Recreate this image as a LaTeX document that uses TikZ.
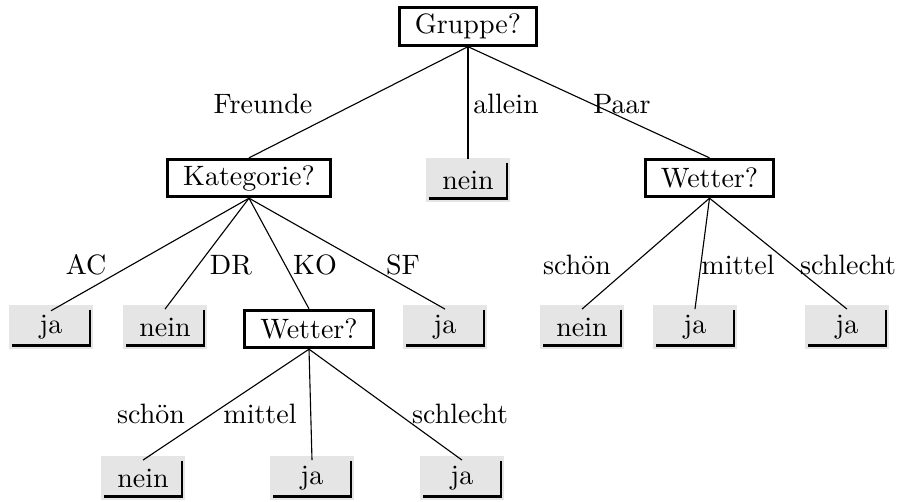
\documentclass[tikz,border=0pt]{standalone}
\begin{document}
\begin{tikzpicture}[x=0.357pt,y=-0.357pt,
  question/.style={draw,line width=1pt,inner xsep=5.6pt,inner ysep=0pt,
    minimum height=13.4pt,font=\normalsize},
  leaf/.style={fill=gray!20,minimum width=30pt,minimum height=16pt,inner sep=0pt,
    path picture={\draw[line width=1pt]
      ([xshift=-1.1pt,yshift=-1.8pt]path picture bounding box.north east) --
      ([xshift=-1.1pt,yshift=1.4pt]path picture bounding box.south east) --
      ([xshift=1.1pt,yshift=1.4pt]path picture bounding box.south west);}},
  branch/.style={anchor=base,inner sep=0pt},
  edge/.style={line width=0.4pt}]
\useasboundingbox (0,0) rectangle (901,501);

% decision nodes
\node[question] (gruppe) at (468,26.5) {Gruppe?};
\node[question] (kat) at (249,178) {Kategorie?};
\node[question] (wetterR) at (709.5,178) {Wetter?};
\node[question] (wetterM) at (309,329) {Wetter?};

% leaves
\node[leaf] (allein) at (468,180) {nein};
\node[leaf] (ac) at (51,327) {ja};
\node[leaf] (dr) at (165,327) {nein};
\node[leaf] (sf) at (445,327) {ja};
\node[leaf] (rschoen) at (582,327) {nein};
\node[leaf] (rmittel) at (695,327) {ja};
\node[leaf] (rschlecht) at (847,327) {ja};
\node[leaf] (mschoen) at (143,478) {nein};
\node[leaf] (mmittel) at (312,478) {ja};
\node[leaf] (mschlecht) at (462,478) {ja};

% connectors
\draw[edge] (gruppe.south) -- (kat.north);
\draw[edge] (gruppe.south) -- ([yshift=-0.7pt]allein.north);
\draw[edge] (gruppe.south) -- (wetterR.north);
\draw[edge] (kat.south) -- ([yshift=-2.4pt]ac.north);
\draw[edge] (kat.south) -- ([yshift=-1.8pt]dr.north);
\draw[edge] (kat.south) -- (wetterM.north);
\draw[edge] (kat.south) -- ([yshift=-1.8pt]sf.north);
\draw[edge] (wetterR.south) -- ([yshift=-1.8pt]rschoen.north);
\draw[edge] (wetterR.south) -- ([yshift=-1.8pt]rmittel.north);
\draw[edge] (wetterR.south) -- ([yshift=-1.8pt]rschlecht.north);
\draw[edge] (wetterM.south) -- ([yshift=-1.8pt]mschoen.north);
\draw[edge] (wetterM.south) -- ([yshift=-1.8pt]mmittel.north);
\draw[edge] (wetterM.south) -- ([yshift=-1.8pt]mschlecht.north);

% branch labels
\node[branch] (lfreunde) at (263,113) {Freunde};
\node[branch] (lallein) at (506,113) {allein};
\node[branch] (lpaar) at (622,113) {Paar};
\node[branch] (lac) at (86,274) {AC};
\node[branch] (ldr) at (231,274) {DR};
\node[branch] (lko) at (315,274) {KO};
\node[branch] (lsf) at (403,274) {SF};
\node[branch] (lrschoen) at (577,274) {schön};
\node[branch] (lrmittel) at (738,274) {mittel};
\node[branch] (lrschlecht) at (848,274) {schlecht};
\node[branch] (lmschoen) at (151,423) {schön};
\node[branch] (lmmittel) at (260,423) {mittel};
\node[branch] (lmschlecht) at (460,423) {schlecht};
\end{tikzpicture}
\end{document}
